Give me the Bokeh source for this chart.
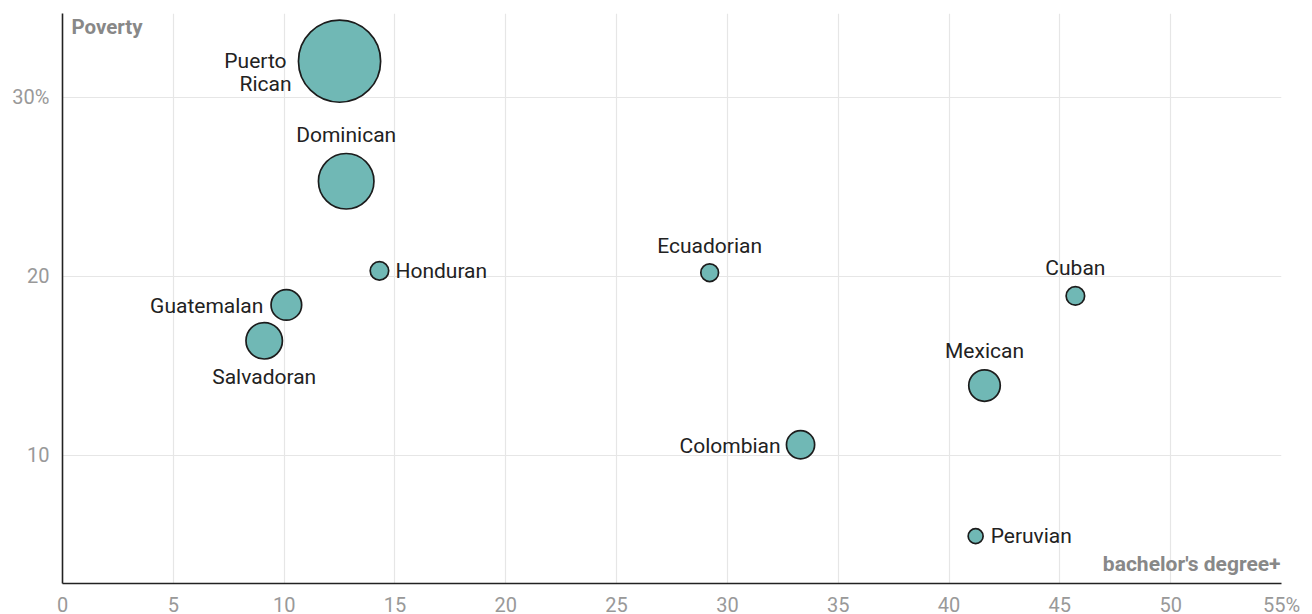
from bokeh.plotting import figure
from bokeh.models import ColumnDataSource, Range1d, FixedTicker, Label
from bokeh.core.properties import value
from bokeh.embed import file_html
from bokeh.resources import INLINE

# ---- data ----
groups = ["Puerto Rican", "Dominican", "Honduran", "Guatemalan", "Salvadoran",
          "Ecuadorian", "Cuban", "Mexican", "Colombian", "Peruvian"]
bachelors = [12.5, 12.8, 14.3, 10.1, 9.1, 29.2, 45.7, 41.6, 33.3, 41.2]
poverty = [32.0, 25.3, 20.3, 18.4, 16.4, 20.2, 18.9, 13.9, 10.6, 5.5]
bubble_area = [7000, 3250, 400, 1030, 1440, 370, 400, 1090, 880, 270]

x_ticks = [0, 5, 10, 15, 20, 25, 30, 35, 40, 45, 50, 55]
y_ticks = [10, 20, 30]

FONT = "Roboto"

p = figure(frame_width=1219, frame_height=570,
           min_border_left=62, min_border_right=25, min_border_top=13, min_border_bottom=30,
           x_range=Range1d(0, 55), y_range=Range1d(2.857, 34.66),
           output_backend="svg", toolbar_location=None, tools="")
p.outline_line_color = None
p.background_fill_color = "white"
p.border_fill_color = "white"

for ax in (p.xaxis[0], p.yaxis[0]):
    ax.axis_line_color = "#222222"
    ax.axis_line_width = 1.6
    ax.major_tick_line_color = None
    ax.minor_tick_line_color = None
    ax.major_label_text_font = FONT
    ax.major_label_text_font_size = "20px"
    ax.major_label_text_color = "#999999"

p.xaxis[0].major_label_standoff = 3
p.yaxis[0].major_label_standoff = 7

p.xaxis[0].ticker = FixedTicker(ticks=x_ticks)
p.yaxis[0].ticker = FixedTicker(ticks=y_ticks)
p.xaxis[0].major_label_overrides = {55: "55%"}
p.yaxis[0].major_label_overrides = {30: "30%"}

p.xgrid[0].ticker = FixedTicker(ticks=x_ticks)
p.ygrid[0].ticker = FixedTicker(ticks=y_ticks)
for g in (p.xgrid[0], p.ygrid[0]):
    g.grid_line_color = "#e6e6e6"
    g.grid_line_width = 1.2

sizes = [a ** 0.5 - 1.5 for a in bubble_area]
src = ColumnDataSource(dict(x=bachelors, y=poverty, size=sizes, name=groups))
p.scatter("x", "y", size="size", source=src, fill_color="#70b8b5",
          line_color="#1c1c1c", line_width=1.7)

# label placement (screen pixel offsets from the bubble centre)
label_text = ["Puerto", "Rican", "Dominican", "Honduran", "Guatemalan", "Salvadoran",
              "Ecuadorian", "Cuban", "Mexican", "Colombian", "Peruvian"]
label_of = [0, 0, 1, 2, 3, 4, 5, 6, 7, 8, 9]
dx = [-53, -48, 0, 16, -23, 0, 0, 0, 0, -20, 15]
dy = [0, 23, -46, 0, 1, 36, -27, -28, -35, 1, 0]
align = ["right", "right", "center", "left", "right", "center",
         "center", "center", "center", "right", "left"]

lsrc = ColumnDataSource(dict(
    x=[bachelors[i] for i in label_of],
    y=[poverty[i] for i in label_of],
    text=label_text, dx=dx, dy=dy, align=align))
p.text("x", "y", text="text", x_offset="dx", y_offset="dy", text_align="align",
       text_baseline="middle", text_font=value(FONT), text_font_size="21px",
       text_color="#222222", source=lsrc)

p.add_layout(Label(x=0, y=34.66, x_offset=9, y_offset=-13, text="Poverty",
                   text_font=FONT, text_font_size="20.5px", text_font_style="bold",
                   text_color="#888888", text_align="left", text_baseline="middle"))
p.add_layout(Label(x=55, y=2.857, x_offset=-1, y_offset=20, text="bachelor's degree+",
                   text_font=FONT, text_font_size="21px", text_font_style="bold",
                   text_color="#888888", text_align="right", text_baseline="middle"))

open("out.html", "w").write(file_html(p, INLINE))
